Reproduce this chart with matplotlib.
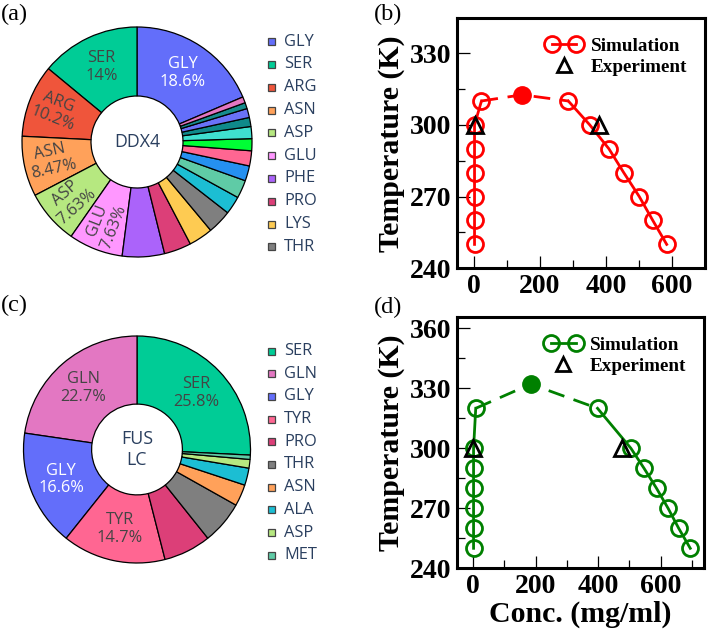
import matplotlib
matplotlib.use("Agg")
import matplotlib.pyplot as plt
from matplotlib.lines import Line2D
from matplotlib.patches import Rectangle
from matplotlib.legend_handler import HandlerLine2D
import numpy as np

# ---------------- data ----------------
ddx4_res = ["GLY", "SER", "ARG", "ASN", "ASP", "GLU", "PHE", "PRO", "LYS", "THR",
            "ALA", "MET", "LEU", "TYR", "ILE", "VAL", "HIS", "TRP", "CYS", "GLN"]
ddx4_pct = [18.6, 14.0, 10.2, 8.47, 7.63, 7.63, 5.93, 3.81, 3.39, 3.39,
            2.54, 2.54, 2.12, 2.12, 1.69, 1.69, 1.27, 1.27, 0.85, 0.85]

fus_res = ["SER", "GLN", "GLY", "TYR", "PRO", "THR", "ASN", "ALA", "ASP", "MET"]
fus_pct = [25.8, 22.7, 16.6, 14.7, 6.75, 6.13, 3.07, 2.45, 1.23, 0.61]

res_colors = {
    "GLY": "#636EFA", "SER": "#00CC96", "ARG": "#EF553B", "ASN": "#FFA15A",
    "ASP": "#B6E880", "GLU": "#FF97FF", "PHE": "#AB63FA", "PRO": "#DC3F78",
    "LYS": "#FECB52", "THR": "#7F7F7F", "ALA": "#1CBED3", "MET": "#5FCBA6",
    "LEU": "#2590F0", "TYR": "#FF6692", "ILE": "#00FE35", "VAL": "#3FE0CF",
    "HIS": "#0F8A8A", "TRP": "#6A72F8", "CYS": "#168C8C", "GLN": "#E377C2",
}

# DDX4 phase diagram
b_low_c = [2, 2, 2, 2, 2, 2, 23]
b_low_T = [250, 260, 270, 280, 290, 300, 310]
b_crit_c = 146
b_crit_T = 312.6
b_high_c = [286, 351, 409, 454, 501, 542, 584]
b_high_T = [310, 300, 290, 280, 270, 260, 250]
b_exp_c = [2, 379]
b_exp_T = [300, 300]

# FUS LC phase diagram
d_low_c = [1, 1, 1, 1, 1, 1, 8]
d_low_T = [250, 260, 270, 280, 290, 300, 320]
d_crit_c = 184
d_crit_T = 332.1
d_high_c = [398, 505, 547, 587, 624, 658, 695]
d_high_T = [320, 300, 290, 280, 270, 260, 250]
d_exp_c = [0, 475]
d_exp_T = [300, 300]

# ---------------- figure ----------------
W, H = 709, 630
fig = plt.figure(figsize=(W / 100, H / 100), dpi=100)

PLOTLY_TXT = "#2a3f5f"
PIEFONT = "Open Sans"


def px_axes(left, top, width, height):
    return fig.add_axes([left / W, 1 - (top + height) / H, width / W, height / H])


def text_color(hexc):
    r, g, b = (int(hexc[i:i + 2], 16) for i in (1, 3, 5))
    return "white" if (r * 299 + g * 587 + b * 114) / 1000 < 128 else "#444444"


def donut(cx, cy, r, names, vals, center_label, legend_x, legend_y0, legend_dy):
    ax = px_axes(cx - r, cy - r, 2 * r, 2 * r)
    vals = np.asarray(vals, float)
    frac = vals / vals.sum()
    cols = [res_colors[n] for n in names]
    start = 90 - 360 * frac[0]
    ax.pie(vals, colors=cols, startangle=start, counterclock=True, radius=1.0,
           wedgeprops=dict(width=0.6, edgecolor="black", linewidth=0.9))
    ax.set_xlim(-1, 1)
    ax.set_ylim(-1, 1)
    ax.set_aspect("equal")
    ax.axis("off")
    theta1 = start + 360 * np.concatenate([[0], np.cumsum(frac)[:-1]])
    mids = theta1 + 180 * frac
    for n, v, f, m, c in zip(names, vals, frac, mids, cols):
        if f < 0.07:
            continue
        rr = 0.72 if f >= 0.13 else 0.76
        x, y = rr * np.cos(np.radians(m)), rr * np.sin(np.radians(m))
        if f >= 0.13:
            rot = 0
        else:
            rot = m - 180 if np.cos(np.radians(m)) < 0 else m
        ax.text(x, y, f"{n}\n{v:.3g}%", ha="center", va="center", rotation=rot,
                rotation_mode="anchor", fontsize=11.8, family=PIEFONT,
                color=text_color(c), linespacing=1.15)
    ax.text(0, 0, center_label, ha="center", va="center", fontsize=12.8,
            family=PIEFONT, color=PLOTLY_TXT, linespacing=1.2)
    # legend (first ten entries, as in the figure)
    for i, n in enumerate(names[:10]):
        yy = legend_y0 + i * legend_dy
        fig.patches.append(Rectangle(((legend_x - 3.5) / W, 1 - (yy + 3.5) / H), 7 / W, 7 / H,
                                     transform=fig.transFigure, facecolor=res_colors[n],
                                     edgecolor="#444444", linewidth=0.9))
        fig.text((legend_x + 12.5) / W, 1 - yy / H, n, ha="left", va="center",
                 fontsize=11.8, family=PIEFONT, color=PLOTLY_TXT)
    return ax


donut(137, 142, 115, ddx4_res, ddx4_pct, "DDX4", 271.7, 41.7, 22.8)
donut(137, 449.5, 113.5, fus_res, fus_pct, "FUS\nLC", 271.7, 351, 22.7)

SERIF = "Liberation Serif"


def phase(ax, color, low_c, low_T, crit_c, crit_T, high_c, high_T, exp_c, exp_T,
          xlim, ylim, yticks):
    lw = 2.0
    ms = 11.5
    mew = 2.0
    ax.plot(low_c, low_T, "-", color=color, lw=lw, marker="o", ms=ms, mfc="none",
            mec=color, mew=mew, zorder=3)
    ax.plot(high_c, high_T, "-", color=color, lw=lw, marker="o", ms=ms, mfc="none",
            mec=color, mew=mew, zorder=3)
    ax.plot([low_c[-1], crit_c, high_c[0]], [low_T[-1], crit_T, high_T[0]], "--",
            color=color, lw=lw, dashes=(6, 3.5), zorder=2)
    ax.plot([crit_c], [crit_T], "o", color=color, ms=12.5, zorder=4)
    ax.plot(exp_c, exp_T, "^", ls="none", mfc="none", mec="black", mew=2.0, ms=11, zorder=5)
    ax.set_xlim(*xlim)
    ax.set_ylim(*ylim)
    ax.set_xticks([0, 200, 400, 600])
    ax.set_xticks([100, 300, 500, 700], minor=True)
    ax.set_yticks(yticks)
    ax.set_yticks([t + 15 for t in yticks[:-1]] + ([yticks[-1] + 15] if yticks[-1] + 15 < ylim[1] else []), minor=True)
    for s in ax.spines.values():
        s.set_linewidth(2.2)
    ax.tick_params(which="both", direction="in", top=False, right=False, width=0.9)
    ax.tick_params(which="major", length=9, pad=4)
    ax.tick_params(which="minor", length=5.5)
    for lab in ax.get_xticklabels() + ax.get_yticklabels():
        lab.set_family(SERIF)
        lab.set_fontweight("bold")
        lab.set_fontsize(20)
    ax.set_ylabel("Temperature (K)", family=SERIF, fontweight="bold", fontsize=21.5, labelpad=3)
    h_sim = Line2D([], [], color=color, lw=lw, marker="o", ms=ms, mfc="none", mec=color, mew=mew)
    h_exp = Line2D([], [], ls="none", marker="^", ms=10, mfc="none", mec="black", mew=2.0)
    ax.legend([h_sim, h_exp], ["Simulation", "Experiment"], loc="upper right",
              bbox_to_anchor=(0.975, 0.97), frameon=False, numpoints=2,
              handler_map={h_exp: HandlerLine2D(numpoints=1)},
              prop=dict(family=SERIF, weight="bold", size=13.8),
              handlelength=1.9, handletextpad=0.45, labelspacing=0.2, borderpad=0.1)


axb = px_axes(456.7, 18.3, 248.3, 250)
phase(axb, "#FF0000", b_low_c, b_low_T, b_crit_c, b_crit_T, b_high_c, b_high_T,
      b_exp_c, b_exp_T, (-52, 695), (240, 344.6), [240, 270, 300, 330])

axd = px_axes(456.7, 317.3, 247.6, 251)
phase(axd, "#008000", d_low_c, d_low_T, d_crit_c, d_crit_T, d_high_c, d_high_T,
      d_exp_c, d_exp_T, (-53, 740), (240, 365.5), [240, 270, 300, 330, 360])
axd.set_xlabel("Conc. (mg/ml)", family=SERIF, fontweight="bold", fontsize=21.5, labelpad=1)

for lab, x, y in [("(a)", 14, 14), ("(c)", 14, 305), ("(b)", 388, 14), ("(d)", 388, 307)]:
    fig.text(x / W, 1 - y / H, lab, ha="center", va="center", family=SERIF, fontsize=17.5)

fig.savefig("out.png", dpi=100)
